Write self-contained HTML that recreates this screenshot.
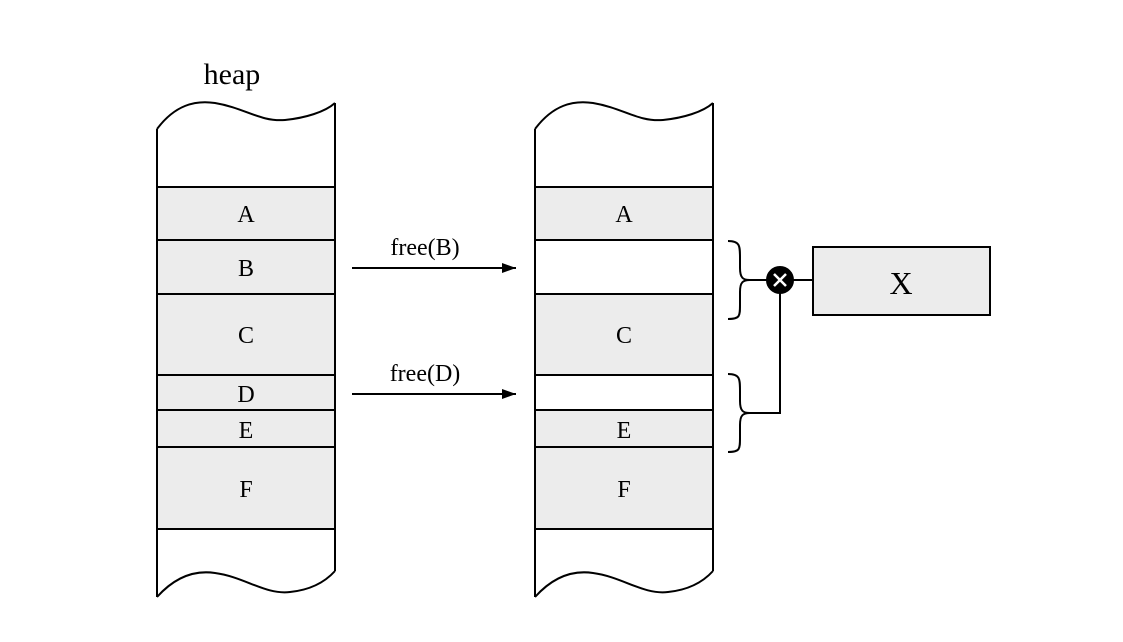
<!DOCTYPE html>
<html><head><style>body{margin:0;background:#fff}svg{display:block}</style></head><body>
<svg width="1123" height="642" xmlns="http://www.w3.org/2000/svg" font-family="Liberation Serif, serif" fill="none" stroke="#000" stroke-width="2">
<defs><marker id="ah" markerWidth="14" markerHeight="10" refX="14" refY="5" orient="auto" markerUnits="userSpaceOnUse"><path d="M0,0 L14,5 L0,10 Z" fill="#000" stroke="none"/></marker></defs>
<g id="col">
<path d="M157,129 C175,105 195,100 215,103 C245,108 260,122 285,120 C305,118 325,112 335,103" />
<path d="M157,597 C175,577 195,570 215,573 C245,577 265,595 290,592 C310,590 325,582 335,571"/>
<line x1="157" y1="129" x2="157" y2="597"/>
<line x1="335" y1="103" x2="335" y2="571"/>
</g>
<g fill="#ececec">
<rect x="157" y="187" width="178" height="53"/>
<rect x="157" y="240" width="178" height="54"/>
<rect x="157" y="294" width="178" height="81"/>
<rect x="157" y="375" width="178" height="35"/>
<rect x="157" y="410" width="178" height="37"/>
<rect x="157" y="447" width="178" height="82"/>
</g>
<use href="#col" x="378"/>
<g>
<rect x="535" y="187" width="178" height="53" fill="#ececec"/>
<rect x="535" y="240" width="178" height="54" fill="#fff"/>
<rect x="535" y="294" width="178" height="81" fill="#ececec"/>
<rect x="535" y="375" width="178" height="35" fill="#fff"/>
<rect x="535" y="410" width="178" height="37" fill="#ececec"/>
<rect x="535" y="447" width="178" height="82" fill="#ececec"/>
</g>
<line x1="352" y1="268" x2="516" y2="268" marker-end="url(#ah)"/>
<line x1="352" y1="394" x2="516" y2="394" marker-end="url(#ah)"/>
<path d="M728,241 C740,241 740,246 740,258 L740,268 C740,278 743,280 750,280 C743,280 740,282 740,292 L740,305 C740,316 740,319 728,319"/>
<path d="M728,374 C740,374 740,379 740,391 L740,401 C740,411 743,413 750,413 C743,413 740,415 740,425 L740,438 C740,449 740,452 728,452"/>
<polyline points="750,413 780,413 780,283"/>
<line x1="750" y1="280" x2="770" y2="280"/>
<line x1="793" y1="280" x2="813" y2="280"/>
<circle cx="780" cy="280" r="13" fill="#000"/>
<path d="M774,274 L786,286 M786,274 L774,286" stroke="#fff" stroke-width="2.5"/>
<rect x="813" y="247" width="177" height="68" fill="#ececec"/>
<g fill="#000" stroke="none" font-size="24" text-anchor="middle">
<text x="232" y="84" font-size="30">heap</text>
<text x="246" y="222">A</text>
<text x="246" y="276">B</text>
<text x="246" y="343">C</text>
<text x="246" y="402">D</text>
<text x="246" y="438">E</text>
<text x="246" y="497">F</text>
<text x="624" y="222">A</text>
<text x="624" y="343">C</text>
<text x="624" y="438">E</text>
<text x="624" y="497">F</text>
<text x="425" y="255">free(B)</text>
<text x="425" y="381">free(D)</text>
<text x="901" y="294" font-size="32">X</text>
</g>
</svg>
</body></html>
